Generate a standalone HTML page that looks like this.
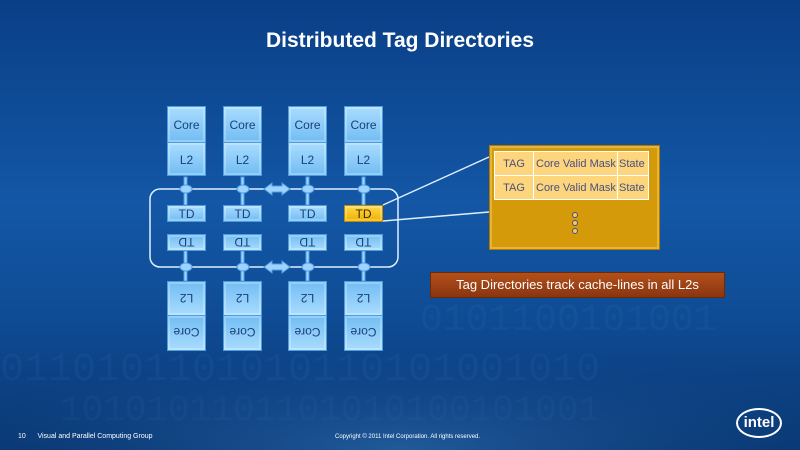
<!DOCTYPE html>
<html><head><style>
body{margin:0;width:800px;height:450px;overflow:hidden;font-family:"Liberation Sans",sans-serif}
#bg{position:absolute;inset:0;background:linear-gradient(180deg,#0a3f86 0%,#1357a6 45%,#0f4c95 70%,#08356f 100%)}
.b{position:absolute;background:linear-gradient(180deg,#a9dcff,#72bdf3);border:1px solid #4d9ee0;box-sizing:border-box;color:#1a3f7a;font-size:12px;text-align:center;box-shadow:inset 0 0 0 2px rgba(255,255,255,.25)}
.f{transform:rotate(180deg)}
.t{position:absolute;color:#fff}
.d{position:absolute;left:82px;width:4px;height:4px;border:1px solid #4a4f80;border-radius:50%;background:#f5c860}
</style></head><body>
<div id="bg"></div>
<svg width="800" height="450" style="position:absolute;left:0;top:0">
<defs><radialGradient id="g" cx="50%" cy="100%" r="70%"><stop offset="0" stop-color="#3b7fc4" stop-opacity=".5"/><stop offset="1" stop-color="#0a3f86" stop-opacity="0"/></radialGradient></defs>
<rect x="0" y="280" width="800" height="170" fill="url(#g)"/>
<text x="420" y="330" font-size="38" fill="#3a78bd" opacity=".12" font-family="Liberation Mono">0101100101001</text>
<text x="0" y="380" font-size="40" fill="#3a78bd" opacity=".12" font-family="Liberation Mono">0110101101010110101001010</text>
<text x="60" y="420" font-size="36" fill="#3a78bd" opacity=".1" font-family="Liberation Mono">1010101101101010100101001</text>
<rect x="150" y="189" width="248" height="78" rx="10" fill="none" stroke="#dfefff" stroke-width="1.5"/>
<line x1="383" y1="205" x2="489" y2="157" stroke="#dfefff" stroke-width="1.5"/>
<line x1="383" y1="221" x2="489" y2="212" stroke="#dfefff" stroke-width="1.5"/>
<g fill="#9fd3ff" stroke="#4d9ee0">
<g id="c">
<rect x="184" y="177" width="3" height="28"/><ellipse cx="186" cy="189" rx="6" ry="4"/>
<rect x="184" y="251" width="3" height="30"/><ellipse cx="186" cy="267" rx="6" ry="4"/>
</g>
<use href="#c" x="57"/><use href="#c" x="122"/><use href="#c" x="178"/>
<path d="M264 189 l8 -6 v3 h10 v-3 l8 6 -8 6 v-3 h-10 v3z"/>
<path d="M264 267 l8 -6 v3 h10 v-3 l8 6 -8 6 v-3 h-10 v3z"/>
</g>
</svg>
<div class="t" style="left:0;width:800px;top:29px;text-align:center;font-size:21px;font-weight:bold">Distributed Tag Directories</div>

<div class="b" style="left:167px;top:106px;width:39px;height:37px;line-height:37px">Core</div>
<div class="b" style="left:167px;top:142px;width:39px;height:34px;line-height:34px">L2</div>
<div class="b" style="left:223px;top:106px;width:39px;height:37px;line-height:37px">Core</div>
<div class="b" style="left:223px;top:142px;width:39px;height:34px;line-height:34px">L2</div>
<div class="b" style="left:288px;top:106px;width:39px;height:37px;line-height:37px">Core</div>
<div class="b" style="left:288px;top:142px;width:39px;height:34px;line-height:34px">L2</div>
<div class="b" style="left:344px;top:106px;width:39px;height:37px;line-height:37px">Core</div>
<div class="b" style="left:344px;top:142px;width:39px;height:34px;line-height:34px">L2</div>

<div class="b" style="left:167px;top:205px;width:39px;height:17px;line-height:17px">TD</div>
<div class="b" style="left:223px;top:205px;width:39px;height:17px;line-height:17px">TD</div>
<div class="b" style="left:288px;top:205px;width:39px;height:17px;line-height:17px">TD</div>
<div class="b" style="left:344px;top:205px;width:39px;height:17px;line-height:17px;background:linear-gradient(180deg,#ffd84a,#f0b000);border-color:#c08a00;color:#3a2a00">TD</div>

<div class="b f" style="left:167px;top:234px;width:39px;height:17px;line-height:17px">TD</div>
<div class="b f" style="left:223px;top:234px;width:39px;height:17px;line-height:17px">TD</div>
<div class="b f" style="left:288px;top:234px;width:39px;height:17px;line-height:17px">TD</div>
<div class="b f" style="left:344px;top:234px;width:39px;height:17px;line-height:17px">TD</div>

<div class="b f" style="left:167px;top:281px;width:39px;height:35px;line-height:35px">L2</div>
<div class="b f" style="left:167px;top:315px;width:39px;height:36px;line-height:36px">Core</div>
<div class="b f" style="left:223px;top:281px;width:39px;height:35px;line-height:35px">L2</div>
<div class="b f" style="left:223px;top:315px;width:39px;height:36px;line-height:36px">Core</div>
<div class="b f" style="left:288px;top:281px;width:39px;height:35px;line-height:35px">L2</div>
<div class="b f" style="left:288px;top:315px;width:39px;height:36px;line-height:36px">Core</div>
<div class="b f" style="left:344px;top:281px;width:39px;height:35px;line-height:35px">L2</div>
<div class="b f" style="left:344px;top:315px;width:39px;height:36px;line-height:36px">Core</div>

<div style="position:absolute;left:489px;top:145px;width:171px;height:105px;background:#d59a0a;border:1px solid #b07800;box-sizing:border-box;box-shadow:inset 0 0 0 2px rgba(255,220,120,.4)">
<table style="position:absolute;left:4px;top:5px;border-collapse:collapse;font-size:11px;color:#4a4f80">
<tr style="height:24px;background:#fcd57c"><td style="border:1px solid #fff;width:36px;text-align:center">TAG</td><td style="border:1px solid #fff;width:80px;padding-left:2px">Core Valid Mask</td><td style="border:1px solid #fff;width:28px">State</td></tr>
<tr style="height:24px;background:#fcd57c"><td style="border:1px solid #fff;text-align:center">TAG</td><td style="border:1px solid #fff;padding-left:2px">Core Valid Mask</td><td style="border:1px solid #fff">State</td></tr>
</table>
<div class="d" style="top:66px"></div><div class="d" style="top:74px"></div><div class="d" style="top:82px"></div>
</div>

<div class="t" style="left:430px;top:272px;width:295px;height:26px;background:linear-gradient(180deg,#b3501a,#8a3510);border:1px solid #6a2a08;box-sizing:border-box;font-size:13px;line-height:24px;text-align:center">Tag Directories track cache-lines in all L2s</div>

<div class="t" style="left:18px;top:433px;font-size:7px">10 &nbsp;&nbsp;&nbsp;&nbsp; Visual and Parallel Computing Group</div>
<div class="t" style="left:335px;top:434px;font-size:6px">Copyright © 2011 Intel Corporation. All rights reserved.</div>
<div style="position:absolute;left:736px;top:408px;width:46px;height:30px;border:2px solid #fff;border-radius:50%;box-sizing:border-box;color:#fff;font-size:15px;font-weight:bold;line-height:26px;text-align:center">intel</div>
</body></html>
